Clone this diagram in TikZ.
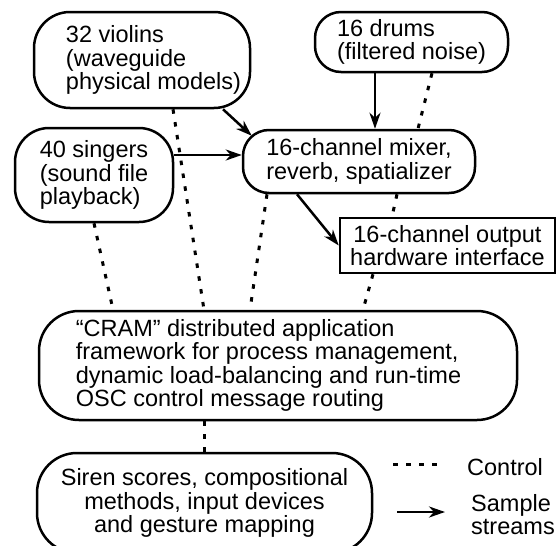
\documentclass[tikz,border=0pt]{standalone}
\usepackage{fontspec}
\setmainfont{Liberation Sans}
\usetikzlibrary{arrows.meta}

\newcommand{\lpad}{\hspace*{23pt}}

\begin{document}
\begin{tikzpicture}[x=1pt, y=-1pt, font=\fontsize{23.5pt}{23.5pt}\selectfont]

\tikzset{drawbox/.style={draw, line width=2.5pt, rounded corners=30pt, align=left, inner sep=0pt}}
\tikzset{flow/.style={line width=2.5pt, -{Stealth[length=16pt, width=11pt, inset=5pt]}}}
\tikzset{ctrl/.style={line width=3pt, dash pattern=on 4.5pt off 8.5pt}}

\useasboundingbox (0, 0) rectangle (560, 546);

% sound sources
\node[drawbox, minimum width=216pt, minimum height=96pt, rounded corners=36pt] at (142, 60) (violins) {\lpad 32 violins\\\lpad (waveguide\\\lpad physical models)};
\node[drawbox, minimum width=158pt, minimum height=94pt, rounded corners=34pt] at (94, 175) (singers) {40 singers\\(sound file\\playback)};
\node[drawbox, minimum width=193pt, minimum height=60pt, rounded corners=26pt] at (411.5, 42) (drums) {16 drums\\(filtered noise)};

% mixer and output
\node[drawbox, minimum width=232pt, minimum height=63pt, rounded corners=26pt] at (359, 161.5) (mixer) {16-channel mixer,\\reverb, spatializer};
\node[drawbox, sharp corners, align=center, minimum width=215pt, minimum height=55pt] at (447.5, 245.5) (output) {16-channel output\\hardware interface};

% control layer
\node[drawbox, minimum width=478pt, minimum height=109pt, rounded corners=40pt] at (278, 365.5) (cram) {“CRAM” distributed application\\framework for process management,\\dynamic load-balancing and run-time\rule{19pt}{0pt}\\OSC control message routing};
\node[drawbox, align=center, minimum width=335pt, minimum height=100pt, rounded corners=40pt] at (204.5, 503) (siren) {Siren scores, compositional\\methods, input devices\\and gesture mapping};

% sample streams
\draw[flow] ([xshift=81pt]violins.south) -- ([shift={(10pt,-7pt)}]mixer.north west);
\draw[flow] ([yshift=20pt]singers.east) -- ([yshift=20pt]singers.east -| mixer.west);
\draw[flow] ([xshift=-36.5pt]drums.south) -- ([xshift=-36.5pt]drums.south |- mixer.north);
\draw[flow] ([xshift=-62pt]mixer.south) -- (output.west);

% control messages
\draw[ctrl] (singers.south) -- ([xshift=-165pt]cram.north);
\draw[ctrl] ([xshift=31pt]violins.south) -- ([xshift=-74pt]cram.north);
\draw[ctrl] ([xshift=-92pt]mixer.south) -- ([xshift=-28pt]cram.north);
\draw[ctrl] ([xshift=-74.5pt]output.south) -- ([xshift=85pt]cram.north);
\draw[ctrl] ([xshift=38pt]mixer.south) -- ([xshift=-55.5pt]output.north);
\draw[ctrl] ([xshift=20.5pt]drums.south) -- ([xshift=59pt]mixer.north);
\draw[ctrl] (siren.north |- cram.south) -- (siren.north);

% legend
\node[inner sep=0pt, anchor=base west] at (467, 475) (ctrllabel) {Control};
\node[inner sep=0pt, anchor=north west, align=left] at (471, 494) (samplelabel) {Sample\\streams};
\draw[ctrl] ([shift={(-74pt,2pt)}]ctrllabel.west) -- ([shift={(-24pt,2pt)}]ctrllabel.west);
\draw[flow] ([shift={(-74pt,-18pt)}]samplelabel.north west) -- ([shift={(-26pt,-18pt)}]samplelabel.north west);

\end{tikzpicture}
\end{document}
